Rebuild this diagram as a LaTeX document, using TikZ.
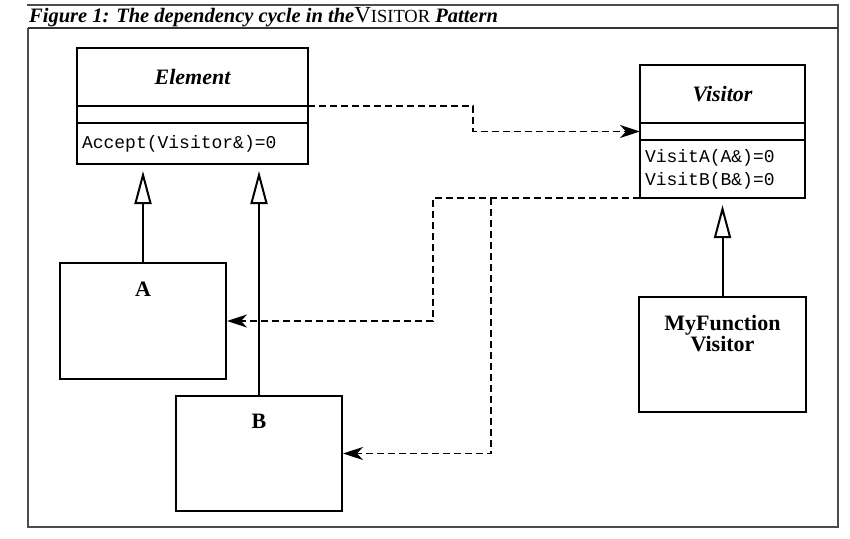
\documentclass[tikz,border=0pt]{standalone}
\usepackage{fontspec}
\setmainfont{Liberation Serif}
\setmonofont{Liberation Mono}
\usetikzlibrary{arrows.meta,positioning}

\newcommand{\namefont}{\fontsize{22}{26}\selectfont\bfseries\itshape}
\newcommand{\opsfont}{\ttfamily\fontsize{18}{23}\selectfont}
\newcommand{\objfont}{\fontsize{22}{21}\selectfont\bfseries}

\begin{document}
\begin{tikzpicture}[x=1pt,y=-1pt,every node/.style={inner sep=5pt},
 clsname/.style={draw,line width=2pt,outer sep=0pt,minimum height=58pt,font=\namefont},
 clsmid/.style={draw,line width=2pt,outer sep=0pt,minimum height=17pt},
 clsops/.style={draw,line width=2pt,outer sep=0pt,align=left,font=\opsfont},
 obj/.style={draw,line width=2pt,minimum width=166pt,minimum height=116pt},
 objname/.style={anchor=north,align=center,font=\objfont},
 inherit/.style={line width=2pt,-{Triangle[open,length=33pt,width=17pt,line width=2pt]},shorten >=7pt},
 dep/.style={line width=1.8pt,dash pattern=on 7pt off 4pt,-{Stealth[length=20pt,width=13pt,inset=6pt]}},
 frame/.style={line width=1.3pt,black!70}]
\useasboundingbox (0,0) rectangle (850,538);
% figure frame and caption
\draw[frame] (27,5) -- (839,5);
\draw[frame] (838,5) -- (838,527) -- (28,527) -- (28,28);
\draw[line width=2.2pt,black!80] (28,28) -- (838,28);
\node[anchor=base west,inner sep=0pt] (title) at (29,22) {\fontsize{20.5}{24}\selectfont\bfseries\itshape Figure 1: The dependency cycle in the{\mdseries\upshape\fontsize{23}{24}\selectfont V\fontsize{18.5}{20}\selectfont ISITOR} Pattern};
% Element class
\node[clsname,minimum width=231pt] (elem) at (192.5,77) {Element};
\node[clsmid,minimum width=231pt,below=0pt of elem] (elemmid) {};
\node[clsops,text width=221pt,minimum height=41pt,below=0pt of elemmid] (elemops) {Accept(Visitor\&)=0};
% Visitor class
\node[clsname,minimum width=165pt] (vis) at (722.5,94) {Visitor};
\node[clsmid,minimum width=165pt,below=0pt of vis] (vismid) {};
\node[clsops,text width=155pt,minimum height=58pt,below=0pt of vismid] (visops) {VisitA(A\&)=0\\VisitB(B\&)=0};
% concrete classes
\node[obj,label={[objname,yshift=-15pt]north:A}] (A) at (143,321) {};
\node[obj,minimum height=115pt,label={[objname,yshift=-14pt]north:B}] (B) at (259,453.5) {};
\node[obj,minimum width=167pt,minimum height=115pt,label={[objname,yshift=-14pt]north:MyFunction\\Visitor}] (mfv) at (722.5,354.5) {};
\coordinate (fork) at ([xshift=-149pt]visops.south west);
% connectors
\draw[inherit] (A.north) -- (A.north |- elemops.south);
\draw[inherit] (B.north) -- (B.north |- elemops.south);
\draw[inherit] (mfv.north) -- (mfv.north |- visops.south);
\draw[dep] (elemmid.north east) -- ++(165,0) |- (vismid.west);
\draw[dep] (visops.south west) -- ++(-207,0) |- (A.east);
\draw[dep] (fork) |- (B.east);
\end{tikzpicture}
\end{document}
